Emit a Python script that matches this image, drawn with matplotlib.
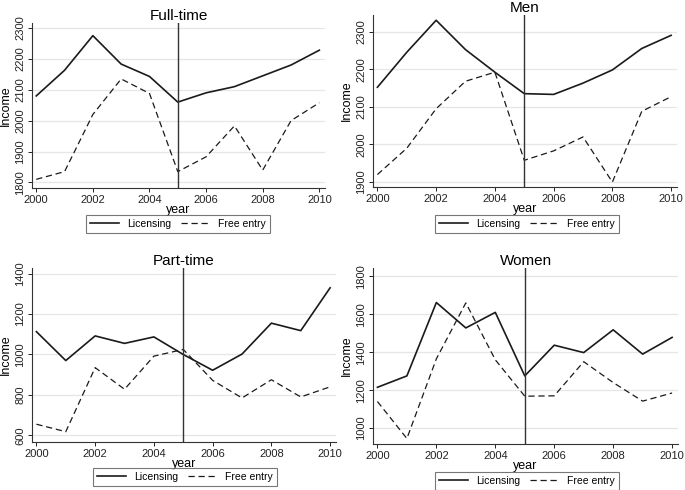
import matplotlib
matplotlib.use('Agg')
import matplotlib.pyplot as plt

plt.rcParams['font.family'] = ['Liberation Sans', 'DejaVu Sans']

years = list(range(2000, 2011))

full_lic = [2080, 2163, 2275, 2183, 2143, 2060, 2090, 2110, 2145, 2180, 2228]
full_free = [1810, 1835, 2020, 2135, 2088, 1835, 1883, 1983, 1840, 2000, 2058]

men_lic = [2152, 2245, 2330, 2252, 2192, 2135, 2133, 2163, 2198, 2255, 2290]
men_free = [1920, 1990, 2095, 2168, 2192, 1958, 1983, 2020, 1900, 2088, 2127]

part_lic = [1113, 970, 1092, 1055, 1087, 1000, 922, 1002, 1155, 1118, 1330]
part_free = [655, 618, 935, 828, 992, 1025, 872, 785, 875, 790, 840]

women_lic = [1215, 1275, 1662, 1528, 1610, 1275, 1437, 1398, 1518, 1390, 1478]
women_free = [1140, 945, 1365, 1660, 1360, 1168, 1170, 1350, 1240, 1142, 1185]

W, H = 685, 490

def px_rect(left, top, right, bottom):
    return [left / W, 1 - bottom / H, (right - left) / W, (bottom - top) / H]

panels = [
    ("Full-time", full_lic, full_free, px_rect(32, 23, 325, 188), (1782, 2316), [1800, 1900, 2000, 2100, 2200, 2300], (178, 224)),
    ("Men", men_lic, men_free, px_rect(373, 15, 677, 187), (1887, 2344), [1900, 2000, 2100, 2200, 2300], (527, 224)),
    ("Part-time", part_lic, part_free, px_rect(32, 268, 336, 442), (567, 1428), [600, 800, 1000, 1200, 1400], (185, 477)),
    ("Women", women_lic, women_free, px_rect(373, 268, 678, 444), (916, 1844), [1000, 1200, 1400, 1600, 1800], (527, 481)),
]

fig = plt.figure(figsize=(W / 100, H / 100), dpi=100)

for title, lic, free, rect, ylim, yticks, leg in panels:
    ax = fig.add_axes(rect)
    ax.plot(years, lic, color='#1a1a1a', lw=1.2, label='Licensing')
    ax.plot(years, free, color='#1a1a1a', lw=0.9, ls=(0, (5, 3)), label='Free entry')
    ax.axvline(2005, color='#333333', lw=1.0)
    ax.set_xlim(1999.85, 2010.2)
    ax.set_ylim(*ylim)
    ax.set_xticks([2000, 2002, 2004, 2006, 2008, 2010])
    ax.set_yticks(yticks)
    ax.set_yticklabels([str(t) for t in yticks], rotation=90, va='center')
    ax.grid(axis='y', color='#e6e6e6', lw=0.9)
    ax.set_axisbelow(True)
    for s in ['top', 'right']:
        ax.spines[s].set_visible(False)
    for s in ['left', 'bottom']:
        ax.spines[s].set_color('#333333')
        ax.spines[s].set_linewidth(0.8)
    ax.tick_params(labelsize=8, length=3, width=0.7, pad=2, colors='#222222')
    ax.set_title(title, fontsize=11, pad=2)
    ax.set_xlabel('year', fontsize=9, labelpad=-1)
    ax.set_ylabel('Income', fontsize=9, labelpad=2)
    lg = fig.legend(*ax.get_legend_handles_labels(), loc='center',
                    bbox_to_anchor=(leg[0] / W, 1 - leg[1] / H), ncol=2,
                    fontsize=7.5, frameon=True, fancybox=False,
                    handlelength=2.8, columnspacing=0.9, borderpad=0.4,
                    handletextpad=0.8)
    lg.get_frame().set_edgecolor('#555555')
    lg.get_frame().set_linewidth(0.8)

fig.savefig('out.png', dpi=100, facecolor='white')
